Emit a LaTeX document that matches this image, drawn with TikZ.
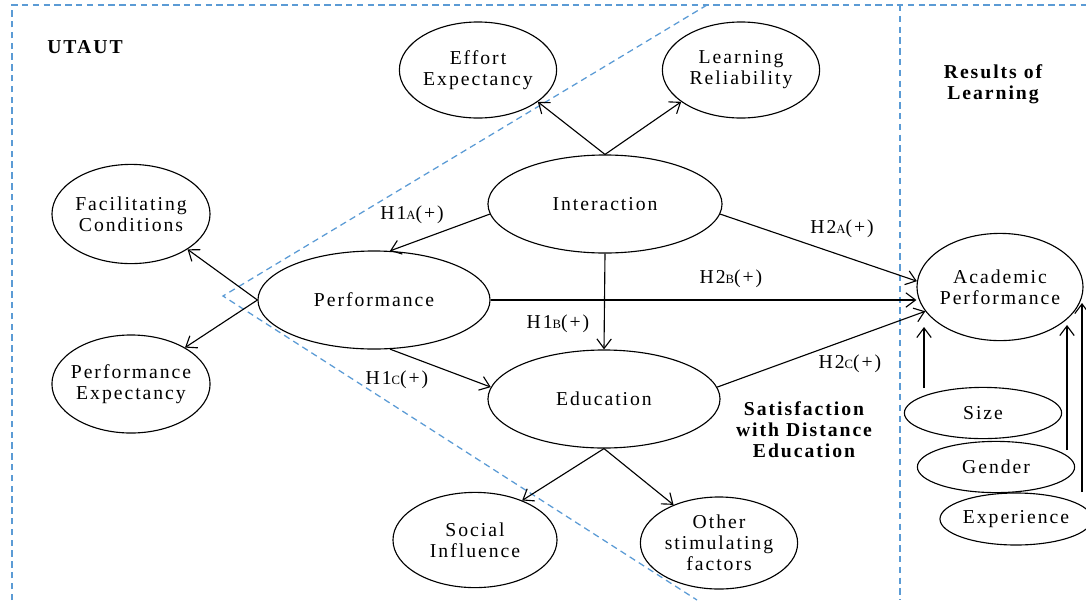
\documentclass[tikz,border=0pt]{standalone}
\usepackage{fontspec}
\setmainfont{Liberation Serif}[LetterSpace=10]
\usetikzlibrary{shapes.geometric,arrows.meta}
\definecolor{dashblue}{RGB}{91,155,213}

\begin{document}
\begin{tikzpicture}[x=0.025cm, y=-0.025cm,
    every node/.style={font=\fontsize{14}{15}\selectfont},
    ell/.style={ellipse, draw, line width=0.8pt, inner sep=-3pt, align=center},
    hyp/.style={inner sep=0pt},
    head/.style={font=\fontsize{14}{15}\selectfont\bfseries, align=center},
    link/.style={->, line width=0.8pt},
    region/.style={line width=0.9pt, dashblue, dash pattern=on 1.6mm off 1.1mm},
    >={Straight Barb[length=2.4mm,width=3.6mm]}]
  \useasboundingbox (0,0) rectangle (1086,600);

  % regions
  \draw[region] (12,600) -- (12,5) -- (1086,5);
  \draw[region] (900,5) -- (900,600);
  \draw[region] (707,5) -- (223,296) -- (697,600);

  \node[head] (utaut) at (85,47) {UTAUT};
  \node[head] (results) at (993,84) {Results of\\Learning};
  \node[head] (satis) at (804,430) {Satisfaction\\with Distance\\Education};

  % constructs
  \node[ell, minimum width=3.93cm, minimum height=2.4cm] (eff) at (478,70) {Effort\\Expectancy};
  \node[ell, minimum width=3.93cm, minimum height=2.4cm] (lrn) at (741,70) {Learning\\Reliability};
  \node[ell, minimum width=5.85cm, minimum height=2.45cm] (int) at (605,204) {Interaction};
  \node[ell, minimum width=3.95cm, minimum height=2.48cm] (fac) at (131,214) {Facilitating\\Conditions};
  \node[ell, minimum width=5.8cm, minimum height=2.45cm] (perf) at (374,300) {Performance};
  \node[ell, minimum width=3.95cm, minimum height=2.45cm] (pe) at (131,384) {Performance\\Expectancy};
  \node[ell, minimum width=5.8cm, minimum height=2.45cm] (edu) at (604,399) {Education};
  \node[ell, minimum width=4.1cm, minimum height=2.38cm] (soc) at (475,540) {Social\\Influence};
  \node[ell, minimum width=3.93cm, minimum height=2.3cm] (oth) at (719,543) {Other\\stimulating\\factors};
  \node[ell, minimum width=4.15cm, minimum height=2.68cm] (acad) at (1000,287) {Academic\\Performance};
  \node[ell, minimum width=3.93cm, minimum height=1.28cm] (size) at (983,413) {Size};
  \node[ell, minimum width=3.93cm, minimum height=1.28cm] (gen) at (996,467) {Gender};
  \node[ell, minimum width=3.8cm, minimum height=1.3cm] (exp) at (1016,519) {Experience};

  % hypotheses
  \draw[link] (int.north) -- (eff.-28);
  \draw[link] (int.north) -- (lrn.-152);
  \draw[link] (int.185) -- (perf.72);
  \draw[link] (int.south) -- (edu.north);
  \draw[link] (int.-5) -- (acad.176);
  \draw[link] (perf.east) -- (perf.east -| acad.west);
  \draw[link] (perf.-72) -- (edu.174);
  \draw[link] (edu.6) -- (acad.198);
  \draw[link] (perf.west) -- (fac.-32);
  \draw[link] (perf.west) -- (pe.34);
  \draw[link] (edu.south) -- (soc.40);
  \draw[link] (edu.south) -- (oth.140);

  \node[hyp] (h1a) at (412,215) {H1{\small A}(+)};
  \node[hyp] (h1b) at (558,324) {H1{\small B}(+)};
  \node[hyp] (h1c) at (397,380) {H1{\small C}(+)};
  \node[hyp] (h2a) at (842,229) {H2{\small A}(+)};
  \node[hyp] (h2b) at (731,279) {H2{\small B}(+)};
  \node[hyp] (h2c) at (850,364) {H2{\small C}(+)};

  % moderators
  \coordinate (sizeA) at (924,388);
  \coordinate (sizeB) at (924,327);
  \coordinate (genA) at (1067,450);
  \coordinate (genB) at (1067,325);
  \coordinate (expA) at (1082,492);
  \coordinate (expB) at (1082,303);
  \draw[link] (sizeA) -- (sizeB);
  \draw[link] (genA) -- (genB);
  \draw[link] (expA) -- (expB);
\end{tikzpicture}
\end{document}
